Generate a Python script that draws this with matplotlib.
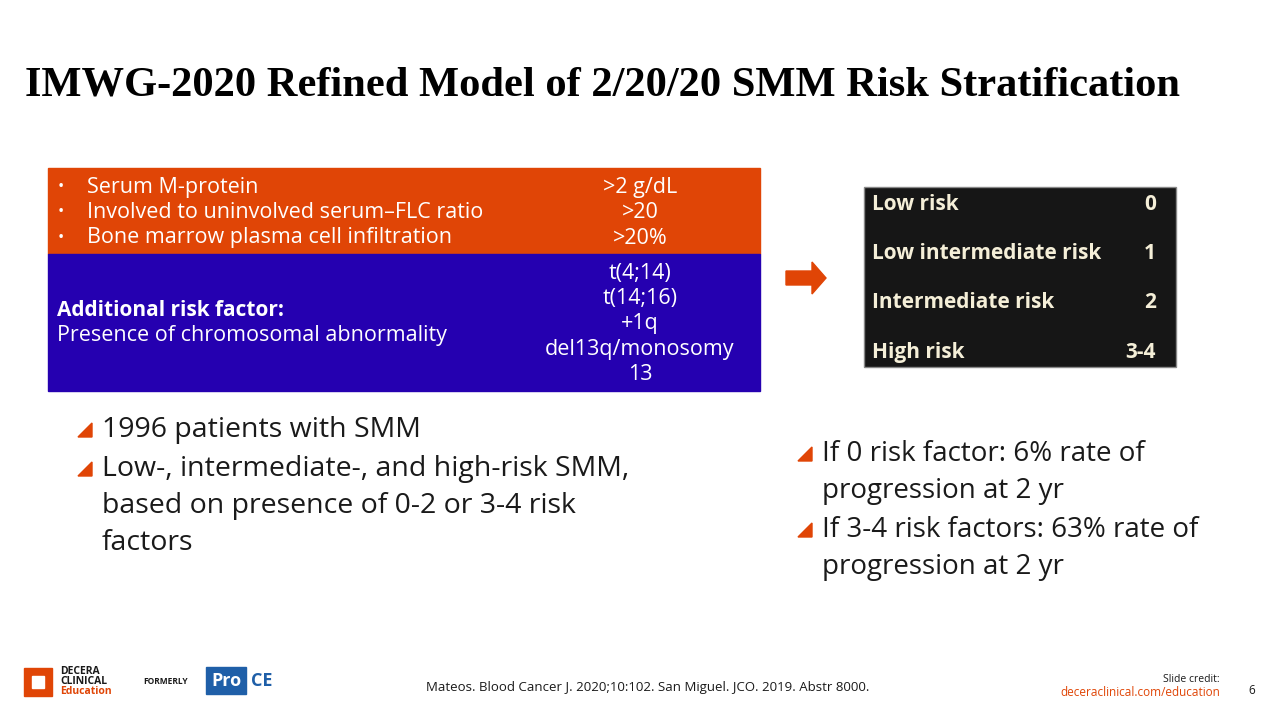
import matplotlib.pyplot as plt
from matplotlib.patches import Rectangle, Polygon, FancyArrow

plt.rcParams['font.family'] = ['Open Sans', 'DejaVu Sans']

title = "IMWG-2020 Refined Model of 2/20/20 SMM Risk Stratification"
factors = ["Serum M-protein", "Involved to uninvolved serum\u2013FLC ratio",
           "Bone marrow plasma cell infiltration"]
cutoffs = [">2 g/dL", ">20", ">20%"]
abnormalities = ["t(4;14)", "t(14;16)", "+1q", "del13q/monosomy", "13"]
risk_groups = ["Low risk", "Low intermediate risk", "Intermediate risk", "High risk"]
risk_scores = ["0", "1", "2", "3-4"]
left_bullets = ["1996 patients with SMM",
                "Low-, intermediate-, and high-risk SMM,\nbased on presence of 0-2 or 3-4 risk\nfactors"]
right_bullets = ["If 0 risk factor: 6% rate of\nprogression at 2 yr",
                 "If 3-4 risk factors: 63% rate of\nprogression at 2 yr"]

ORANGE = "#E04506"
BLUE = "#2500B0"
TXT = "#1a1a1a"

fig = plt.figure(figsize=(12.8, 7.2), dpi=100)
ax = fig.add_axes([0, 0, 1, 1])
ax.set_xlim(0, 1280)
ax.set_ylim(720, 0)
ax.axis('off')

ax.text(25, 85, title, family='Liberation Serif', fontweight='bold', fontsize=30.6,
        va='center', ha='left', color='black')

# factor table
ax.add_patch(Rectangle((48, 168), 712, 86, color=ORANGE))
ax.add_patch(Rectangle((48, 254), 712, 137, color=BLUE))
for i, (f, c) in enumerate(zip(factors, cutoffs)):
    y = 187 + i * 25.5
    ax.text(58, y, "\u2022", color='white', fontsize=12, va='center')
    ax.text(87, y, f, color='white', fontsize=15.5, va='center')
    ax.text(640, y, c, color='white', fontsize=15.5, va='center', ha='center')
ax.text(57, 311, "Additional risk factor:", color='white', fontsize=15,
        fontweight='bold', va='center')
ax.text(57, 336, "Presence of chromosomal abnormality", color='white',
        fontsize=15.5, va='center')
for i, a in enumerate(abnormalities):
    ax.text(640, 273 + i * 25.5, a, color='white', fontsize=15.5,
            va='center', ha='center')

# arrow
ax.add_patch(FancyArrow(786, 278, 26, 0, width=14, head_width=32,
                        head_length=14, color=ORANGE, length_includes_head=False))

# risk box
ax.add_patch(Rectangle((864, 187), 312, 180, facecolor='#161616',
                       edgecolor='#888888', lw=1))
for i, (g, s) in enumerate(zip(risk_groups, risk_scores)):
    y = 204 + i * 49.5
    ax.text(872, y, g, color='#F5EFD8', fontsize=15, fontweight='bold', va='center')
    ax.text(1156, y, s, color='#F5EFD8', fontsize=15, fontweight='bold',
            va='center', ha='right')

def bullet(x, y):
    ax.add_patch(Polygon([(x, y + 7), (x + 14, y - 7), (x + 14, y + 7)],
                         closed=True, color=ORANGE))

ys = [428, 467]
for y, t in zip(ys, left_bullets):
    bullet(78, y + 2)
    ax.text(102, y - 12, t, fontsize=20.5, color=TXT, va='top', linespacing=1.42)
ys = [452, 528]
for y, t in zip(ys, right_bullets):
    bullet(798, y + 2)
    ax.text(822, y - 12, t, fontsize=20, color=TXT, va='top', linespacing=1.42)

# footer
ax.text(426, 688, "Mateos. Blood Cancer J. 2020;10:102. San Miguel. JCO. 2019. Abstr 8000.",
        fontsize=9.5, color=TXT, va='center')
ax.text(1220, 679, "Slide credit:", fontsize=7.5, color=TXT, ha='right', va='center')
ax.text(1220, 692, "deceraclinical.com/education", fontsize=8.5, color=ORANGE,
        ha='right', va='center')
ax.text(1255, 691, "6", fontsize=8.5, color=TXT, ha='right', va='center')

# logo
ax.add_patch(Rectangle((24, 668), 28, 28, color=ORANGE))
ax.add_patch(Rectangle((32, 676), 12, 12, color='white'))
ax.text(60, 672, "DECERA", fontsize=7.5, fontweight='bold', color=TXT, va='center')
ax.text(60, 682, "CLINICAL", fontsize=7.5, fontweight='bold', color=TXT, va='center')
ax.text(60, 692, "Education", fontsize=7.5, fontweight='bold', color=ORANGE, va='center')
ax.text(143, 682, "FORMERLY", fontsize=6, fontweight='bold', color=TXT, va='center')
ax.add_patch(Rectangle((206, 667), 40, 27, color='#1F5FA8'))
ax.text(226, 681, "Pro", fontsize=13, fontweight='bold', color='white',
        va='center', ha='center')
ax.text(262, 681, "CE", fontsize=13, fontweight='bold', color='#1F5FA8',
        va='center', ha='center')

fig.savefig("out.png", dpi=100)
